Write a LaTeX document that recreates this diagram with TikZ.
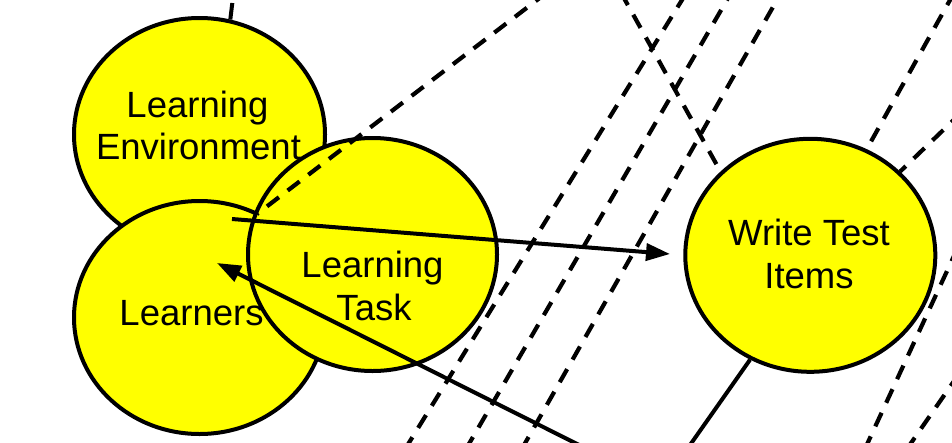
\documentclass[tikz,border=0pt]{standalone}
\usepackage{fontspec}
\setmainfont{Liberation Sans}
\usetikzlibrary{shapes.geometric,arrows.meta}
\definecolor{bubY}{RGB}{255,255,0}
\begin{document}
\begin{tikzpicture}[x=1pt,y=-1pt,
  bubble/.style={ellipse,draw=black,fill=bubY,line width=4pt,inner sep=0pt,minimum width=251pt,minimum height=233pt},
  lbl/.style={anchor=base,inner sep=0pt,font=\fontsize{36.5}{42.5}\selectfont},
  dline/.style={line width=4.2pt,dash pattern=on 15pt off 11pt},
  sline/.style={line width=4pt},
  arr/.style={sline,-{Triangle[length=24pt,width=17pt]}}]
\useasboundingbox (0,0) rectangle (952,442);
% free ends of the connectors
\coordinate (p1s) at (404.5,450); \coordinate (p1e) at (686.9,-8);
\coordinate (p2s) at (465.4,450); \coordinate (p2e) at (731.6,-8);
\coordinate (p3s) at (521.2,450); \coordinate (p3e) at (781.5,-8);
\coordinate (bs) at (620.6,-8);
\coordinate (r1s) at (954.5,-8);
\coordinate (r2s) at (962,112);
\coordinate (r3s) at (864.4,450); \coordinate (r3e) at (956.7,250);
\coordinate (r4s) at (906.2,450); \coordinate (r4e) at (961.7,370);
\coordinate (as) at (547.5,-8); \coordinate (ae) at (257,214);
\coordinate (a1s) at (232,219); \coordinate (a1e) at (670,254);
\coordinate (a2s) at (589,450); \coordinate (a2e) at (217,263);
\coordinate (bot) at (686.5,450);
\coordinate (topS) at (232.3,3);
% dashed lines behind the bubbles
\draw[dline] (p1s) -- (p1e);
\draw[dline] (p2s) -- (p2e);
\draw[dline] (p3s) -- (p3e);
\draw[dline] (r3s) -- (r3e);
\draw[dline] (r4s) -- (r4e);
% bubbles
\node[bubble] (env) at (199.5,134.5) {};
\node[bubble] (lrn) at (199.5,317.5) {};
\node[bubble,minimum width=249pt] (task) at (372.5,254.5) {};
\node[bubble,minimum width=250pt] (wti) at (810.3,255.3) {};
% connectors touching the bubbles
\draw[dline] (bs) -- (wti.137);
\draw[dline] (r1s) -- (wti.62);
\draw[dline] (r2s) -- (wti.43);
\draw[dline] (as) -- (ae);
\draw[sline] (topS) -- (env.75.4);
\draw[sline] (wti.-120.3) -- (bot);
\draw[arr] (a1s) -- (a1e);
\draw[arr] (a2s) -- (a2e);
% labels
\node[lbl] (envA) at (197.5,117) {Learning};
\node[lbl] (envB) at (198.5,159) {Environment};
\node[lbl] (lrnA) at (191.5,325) {Learners};
\node[lbl] (taskA) at (372.5,277) {Learning};
\node[lbl] (taskB) at (374,320) {Task};
\node[lbl] (wtiA) at (809,245) {Write Test};
\node[lbl] (wtiB) at (809,288) {Items};
\end{tikzpicture}
\end{document}
